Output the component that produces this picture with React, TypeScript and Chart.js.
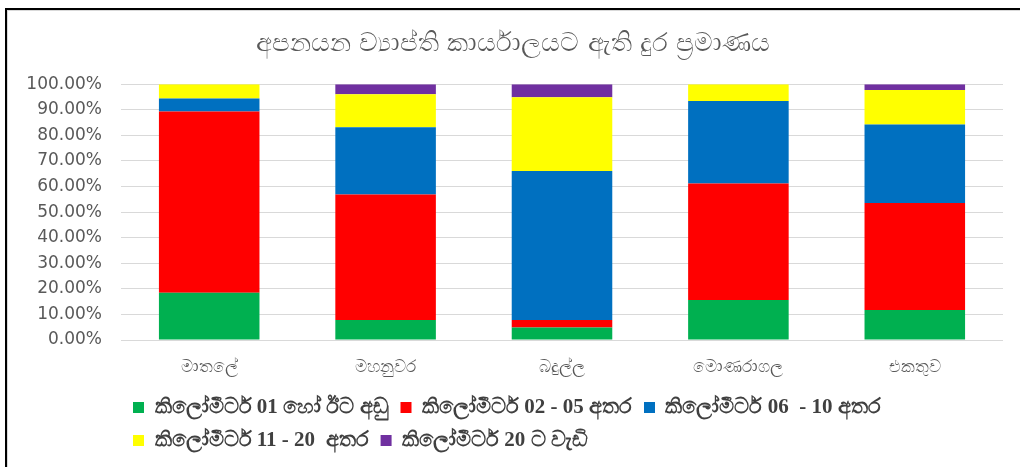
import React, { useEffect, useRef } from "react";
import { Chart, registerables } from "chart.js";

Chart.register(...registerables);

const titleText = "අපනයන ව්‍යාප්ති කාර්යාලයට ඇති දුර ප්‍රමාණය";
const categories = ["මාතලේ", "මහනුවර", "බදුල්ල", "මොණරාගල", "එකතුව"];
const seriesNames = [
  "කිලෝමීටර් 01 හෝ ඊට අඩු",
  "කිලෝමීටර් 02 - 05 අතර",
  "කිලෝමීටර් 06  - 10 අතර",
  "කිලෝමීටර් 11 - 20  අතර",
  "කිලෝමීටර් 20 ට වැඩි",
];
const km01OrLess = [18.5, 7.8, 4.9, 15.6, 11.7];
const km02to05 = [70.8, 49.1, 2.9, 45.6, 41.9];
const km06to10 = [5.1, 26.3, 58.3, 32.2, 30.6];
const km11to20 = [5.6, 12.9, 28.8, 6.6, 13.5];
const km20plus = [0, 3.9, 5.1, 0, 2.3];
const seriesColors = ["#00B050", "#FF0000", "#0070C0", "#FFFF00", "#7030A0"];
const yTickValues = [0, 10, 20, 30, 40, 50, 60, 70, 80, 90, 100];

export default function App() {
  const canvasRef = useRef<HTMLCanvasElement | null>(null);

  useEffect(() => {
    if (!canvasRef.current) return;
    const seriesData = [km01OrLess, km02to05, km06to10, km11to20, km20plus];
    const chart = new Chart(canvasRef.current, {
      type: "bar",
      data: {
        labels: categories,
        datasets: seriesData.map((d, i) => ({
          label: seriesNames[i],
          data: d,
          backgroundColor: seriesColors[i],
          borderWidth: 0,
          categoryPercentage: 1,
          barPercentage: 0.57,
        })),
      },
      options: {
        animation: false,
        responsive: false,
        layout: { padding: { top: 10, left: 14, right: 17, bottom: 6 } },
        plugins: {
          title: {
            display: true,
            text: titleText,
            color: "#595959",
            font: { family: "'DejaVu Sans', sans-serif", size: 26, weight: "normal" },
            padding: { top: 8, bottom: 24 },
          },
          legend: {
            display: true,
            position: "bottom",
            align: "start",
            fullSize: false,
            labels: {
              color: "#404040",
              boxWidth: 11,
              boxHeight: 11,
              padding: 12,
              font: { family: "'Liberation Serif', serif", size: 21, weight: "bold" },
            },
          },
          tooltip: { enabled: false },
        },
        scales: {
          x: {
            stacked: true,
            grid: { display: false },
            border: { display: false },
            ticks: {
              color: "#595959",
              padding: 9,
              font: { family: "'DejaVu Sans', sans-serif", size: 17 },
            },
            afterFit: (scale: any) => {
              scale.height = 45;
            },
          },
          y: {
            stacked: true,
            min: 0,
            max: 100,
            afterBuildTicks: (scale: any) => {
              scale.ticks = yTickValues.map((v) => ({ value: v }));
            },
            grid: { color: "#D9D9D9", lineWidth: 1, drawTicks: false },
            border: { display: false },
            ticks: {
              color: "#595959",
              padding: 19,
              font: { family: "'DejaVu Sans', sans-serif", size: 17 },
              callback: (v: any) => Number(v).toFixed(2) + "%",
            },
            afterFit: (scale: any) => {
              scale.width = 98;
            },
          },
        },
      },
    });
    return () => chart.destroy();
  }, []);

  return (
    <div
      style={{
        position: "fixed",
        left: 0,
        top: 0,
        width: 1020,
        height: 467,
        background: "#ffffff",
        overflow: "hidden",
      }}
    >
      <div style={{ position: "absolute", left: 5, top: 8, width: 1015, height: 2, background: "#000" }} />
      <div style={{ position: "absolute", left: 5, top: 8, width: 2, height: 459, background: "#000" }} />
      <div style={{ position: "absolute", left: 7, top: 10, width: 1013, height: 1, background: "#D9D9D9" }} />
      <div style={{ position: "absolute", left: 7, top: 10, width: 1, height: 457, background: "#D9D9D9" }} />
      <canvas
        ref={canvasRef}
        width={1011}
        height={456}
        style={{ position: "absolute", left: 9, top: 11, width: 1011, height: 456 }}
      />
    </div>
  );
}
